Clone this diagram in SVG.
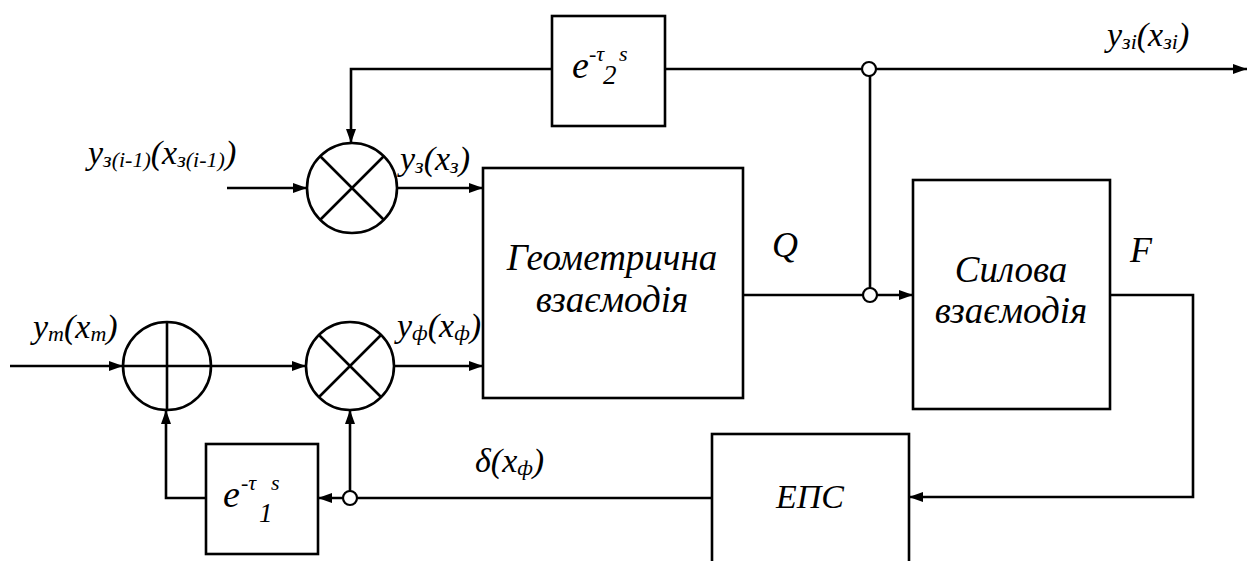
<svg xmlns="http://www.w3.org/2000/svg" width="1247" height="561" viewBox="0 0 1247 561">
<defs>
<marker id="ar" viewBox="0 0 14 10" refX="14" refY="5" markerWidth="14" markerHeight="10" markerUnits="userSpaceOnUse" orient="auto">
<path d="M0,0 L14,5 L0,10 Z" fill="#000"/>
</marker>
</defs>
<rect width="1247" height="561" fill="#fff"/>
<g id="connectors" fill="none" stroke="#000" stroke-width="2.6">
<path d="M552,69 H351 V143" marker-end="url(#ar)"/>
<path d="M665,69 H1247" marker-end="url(#ar)"/>
<path d="M870,76 V288"/>
<path d="M227,188 H307" marker-end="url(#ar)"/>
<path d="M397,188 H483" marker-end="url(#ar)"/>
<path d="M10,366 H123" marker-end="url(#ar)"/>
<path d="M211,366 H306" marker-end="url(#ar)"/>
<path d="M394,366 H483" marker-end="url(#ar)"/>
<path d="M743,295 H913" marker-end="url(#ar)"/>
<path d="M1110,295 H1193 V497 H909" marker-end="url(#ar)"/>
<path d="M712,498 H318" marker-end="url(#ar)"/>
<path d="M350,491 V410" marker-end="url(#ar)"/>
<path d="M206,498 H166 V410" marker-end="url(#ar)"/>
<circle fill="#fff" stroke-width="2.2" cx="869" cy="69" r="7"/>
<circle fill="#fff" stroke-width="2.2" cx="870" cy="295" r="7"/>
<circle fill="#fff" stroke-width="2.2" cx="350" cy="498" r="7"/>
</g>
<g id="labels">
<text style="font-family:'Liberation Serif',serif !important;font-style:italic" font-size="34" x="88" y="164">y<tspan font-size="22" dy="3">з(i-1)</tspan><tspan dy="-3">(x</tspan><tspan font-size="22" dy="3">з(i-1)</tspan><tspan dy="-3">)</tspan></text>
<text style="font-family:'Liberation Serif',serif !important;font-style:italic" font-size="34" x="400" y="170">y<tspan font-size="22" dy="3">з</tspan><tspan dy="-3">(x</tspan><tspan font-size="22" dy="3">з</tspan><tspan dy="-3">)</tspan></text>
<text style="font-family:'Liberation Serif',serif !important;font-style:italic" font-size="34" x="33" y="338">y<tspan font-size="22" dy="3">m</tspan><tspan dy="-3">(x</tspan><tspan font-size="22" dy="3">m</tspan><tspan dy="-3">)</tspan></text>
<text style="font-family:'Liberation Serif',serif !important;font-style:italic" font-size="34" x="397" y="337">y<tspan font-size="22" dy="3">ф</tspan><tspan dy="-3">(x</tspan><tspan font-size="22" dy="3">ф</tspan><tspan dy="-3">)</tspan></text>
<text style="font-family:'Liberation Serif',serif !important;font-style:italic" font-size="34" x="475" y="472">δ(x<tspan font-size="22" dy="3">ф</tspan><tspan dy="-3">)</tspan></text>
<text style="font-family:'Liberation Serif',serif !important;font-style:italic" font-size="34" x="1107" y="46">y<tspan font-size="22" dy="3">зi</tspan><tspan dy="-3">(x</tspan><tspan font-size="22" dy="3">зi</tspan><tspan dy="-3">)</tspan></text>
<text style="font-family:'Liberation Serif',serif !important;font-style:italic" x="772" y="257" font-size="36">Q</text>
<text style="font-family:'Liberation Serif',serif !important;font-style:italic" x="1130" y="262" font-size="36">F</text>
</g>
<g id="delay2">
<rect fill="#fff" stroke="#000" stroke-width="2.6" x="552" y="16" width="113" height="110"/>
<text style="font-family:'Liberation Serif',serif !important;font-style:italic" x="572" y="78" font-size="38">e</text>
<text style="font-family:'Liberation Serif',serif !important;font-style:italic" x="589" y="61" font-size="22">-τ</text>
<text style="font-family:'Liberation Serif',serif !important;font-style:italic" x="619" y="61" font-size="22">s</text>
<text style="font-family:'Liberation Serif',serif !important;font-style:italic" x="603" y="84" font-size="27">2</text>
</g>
<g id="mult1" fill="#fff" stroke="#000" stroke-width="2.6">
<circle cx="352" cy="188" r="45"/>
<path fill="none" d="M320,156 L384,220 M384,156 L320,220"/>
</g>
<g id="adder" fill="#fff" stroke="#000" stroke-width="2.6">
<circle cx="167" cy="366" r="44"/>
<path fill="none" d="M123,366 H211 M167,322 V410"/>
</g>
<g id="mult2" fill="#fff" stroke="#000" stroke-width="2.6">
<circle cx="350" cy="366" r="44"/>
<path fill="none" d="M319,335 L381,397 M381,335 L319,397"/>
</g>
<g id="geom">
<rect fill="#fff" stroke="#000" stroke-width="2.6" x="483" y="168" width="260" height="230"/>
<text style="font-family:'Liberation Serif',serif !important;font-style:italic" font-size="37" x="612" y="270" text-anchor="middle">Геометрична</text>
<text style="font-family:'Liberation Serif',serif !important;font-style:italic" font-size="37" x="612" y="312" text-anchor="middle">взаємодія</text>
</g>
<g id="force">
<rect fill="#fff" stroke="#000" stroke-width="2.6" x="913" y="180" width="197" height="229"/>
<text style="font-family:'Liberation Serif',serif !important;font-style:italic" font-size="37" x="1011" y="282" text-anchor="middle">Силова</text>
<text style="font-family:'Liberation Serif',serif !important;font-style:italic" font-size="37" x="1011" y="323" text-anchor="middle">взаємодія</text>
</g>
<g id="eps">
<rect fill="#fff" stroke="#000" stroke-width="2.6" x="712" y="434" width="197" height="160"/>
<text style="font-family:'Liberation Serif',serif !important;font-style:italic" x="810" y="508" font-size="34" text-anchor="middle">ЕПС</text>
</g>
<g id="delay1">
<rect fill="#fff" stroke="#000" stroke-width="2.6" x="206" y="444" width="112" height="110"/>
<text style="font-family:'Liberation Serif',serif !important;font-style:italic" x="223" y="507" font-size="38">e</text>
<text style="font-family:'Liberation Serif',serif !important;font-style:italic" x="241" y="490" font-size="22">-τ</text>
<text style="font-family:'Liberation Serif',serif !important;font-style:italic" x="271" y="490" font-size="22">s</text>
<text style="font-family:'Liberation Serif',serif !important;font-style:italic" x="259" y="522" font-size="27">1</text>
</g>
</svg>
